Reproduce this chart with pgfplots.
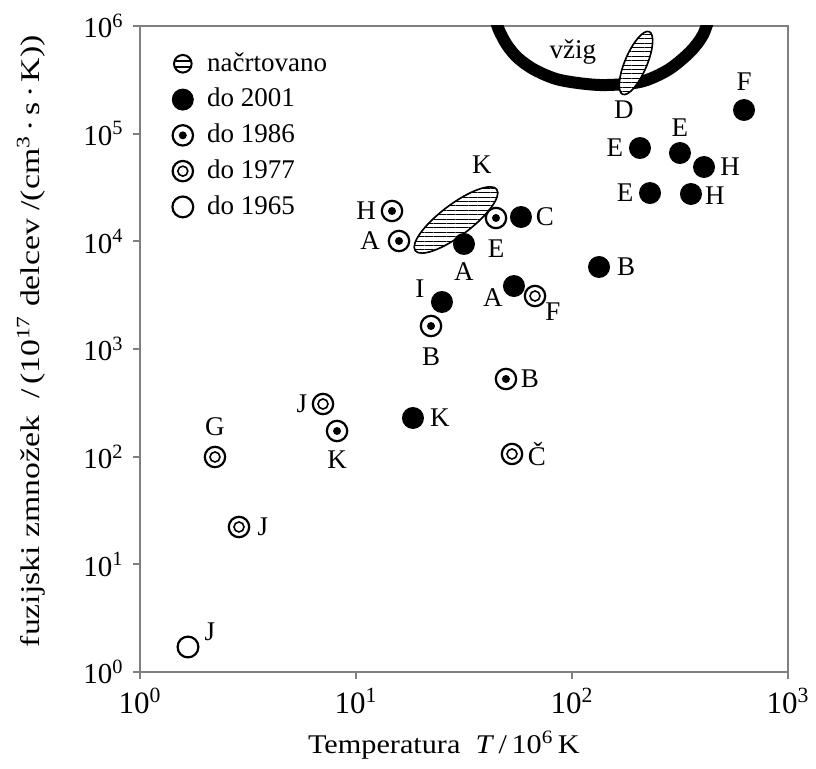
\documentclass[border=0pt]{standalone}
\usepackage{fontspec}
\setmainfont{Liberation Serif}
\newfontfamily\ylabfont[FakeStretch=1.25]{Liberation Serif}
\newfontfamily\xlabfont[FakeStretch=1.12]{Liberation Serif}
\usepackage{pgfplots}
\usepackage{pgfplotstable}
\pgfplotsset{compat=1.18}
\usetikzlibrary{patterns.meta}

\pgfdeclareplotmark{dot01}{%
  \pgfpathcircle{\pgfpointorigin}{5.5pt}\pgfusepathqfill}
\pgfdeclareplotmark{ring86}{%
  \pgfsetfillcolor{white}\pgfsetlinewidth{1.1pt}%
  \pgfpathcircle{\pgfpointorigin}{5.1pt}\pgfusepathqfillstroke
  \pgfsetfillcolor{black}%
  \pgfpathcircle{\pgfpointorigin}{2.0pt}\pgfusepathqfill}
\pgfdeclareplotmark{ring77}{%
  \pgfsetfillcolor{white}\pgfsetlinewidth{1.1pt}%
  \pgfpathcircle{\pgfpointorigin}{5.1pt}\pgfusepathqfillstroke
  \pgfsetlinewidth{0.8pt}%
  \pgfpathcircle{\pgfpointorigin}{2.5pt}\pgfusepathqstroke
  \pgfsetfillcolor{black}}
\pgfdeclareplotmark{open65}{%
  \pgfsetfillcolor{white}\pgfsetlinewidth{1.1pt}%
  \pgfpathcircle{\pgfpointorigin}{5.2pt}\pgfusepathqfillstroke
  \pgfsetfillcolor{black}}
\pgfdeclareplotmark{ellK}{%
  \pgfpathellipse{\pgfpointorigin}{\pgfpointpolar{37}{25.5pt}}{\pgfpointpolar{127}{7.8pt}}%
  \pgfusepathqfillstroke}
\pgfdeclareplotmark{ellD}{%
  \pgfpathellipse{\pgfpointorigin}{\pgfpointpolar{67}{17pt}}{\pgfpointpolar{157}{5.5pt}}%
  \pgfusepathqfillstroke}

% x y dx dy lab  (dx, dy: label offset in pt)
\pgfplotstableread{
x y dx dy lab
18.36 228.6 13.5 0 K
25.01 2732 -11 6.5 I
31.62 9445 0 -14 A
58.05 16820 12 0 C
53.88 3846 -10.5 -6 A
133.4 5775 13.5 0 B
206.4 73580 -12.5 0 E
316.2 66110 0 12.5 E
408.5 49010 13 0 H
229.7 28100 -12.5 0 E
355.5 27510 12 -1 H
625.7 165860 0 14 F
}\tabA
\pgfplotstableread{
x y dx dy lab
14.68 19120 -13 0 H
15.82 10070 -14.5 0 A
44.48 16470 0 -15.5 E
22.25 1635 0 -15.5 B
8.17 173.1 0 -14.5 K
49.47 526.3 12 0 B
}\tabB
\pgfplotstableread{
x y dx dy lab
2.224 99.3 0 15 G
2.873 22.22 12 0 J
7.035 308.4 -10.5 0 J
52.75 105.9 12.5 0 Č
67.42 3106 9 -8 F
}\tabC
\pgfplotstableread{
x y dx dy lab
1.668 1.707 11 7.5 J
}\tabD
\pgfplotstableread{
x y dx dy lab
29.04 15780 13 27.5 K
197.8 453200 -6 -23.5 D
}\tabE

\pgfplotsset{
  lbl/.style={nodes near coords, point meta=explicit symbolic,
    visualization depends on={\thisrow{dx}\as\dx},
    visualization depends on={\thisrow{dy}\as\dy},
    every node near coord/.append style={anchor=center, inner sep=0pt,
      xshift=\dx pt, yshift=\dy pt, black}},
}

\begin{document}
\fontsize{13.5}{16}\selectfont
\begin{tikzpicture}
\useasboundingbox (-70pt,-48.5pt) rectangle (338pt,336pt);
\begin{axis}[
  at={(0,0)}, anchor=south west, scale only axis,
  width=324pt, height=323pt,
  xmode=log, ymode=log,
  xmin=1, xmax=1000, ymin=1, ymax=1e6,
  xtick={1,10,100,1000},
  xticklabels={10\textsuperscript{0},10\textsuperscript{1},10\textsuperscript{2},10\textsuperscript{3}},
  ytick={1,10,100,1000,10000,100000,1000000},
  yticklabels={10\textsuperscript{0},10\textsuperscript{1},10\textsuperscript{2},10\textsuperscript{3},10\textsuperscript{4},10\textsuperscript{5},10\textsuperscript{6}},
  xticklabel style={font=\fontsize{15.5}{18}\selectfont},
  yticklabel style={font=\fontsize{14.5}{17}\selectfont},
  xminorticks=false, yminorticks=false,
  tick pos=left,
  tick align=outside, major tick length=3.5pt,
  axis line style={black!50, line width=1.1pt},
  tick style={black!50, line width=0.9pt},
  xlabel={\xlabfont Temperatura\ \ \textit{T}\,/\,10\textsuperscript{6}\,K},
  ylabel={\ylabfont fuzijski zmnožek\ \ /\,(10\textsuperscript{17} delcev /(cm\textsuperscript{3}\,·\,s\,·\,K))},
  every axis x label/.style={at={(axis description cs:0.469,-0.113)}, anchor=center},
  every axis y label/.style={at={(axis description cs:-0.168,0.512)}, rotate=90, anchor=center},
  legend style={draw=none, fill=none, at={(0.0485,0.966)}, anchor=north west,
    row sep=2.5pt, legend cell align=left, inner sep=0pt},
]
% ignition curve
\addplot[forget plot, smooth, black, line width=6pt] coordinates {
(43.5,1.265e6) (45.9,9.18e5) (50.0,6.66e5) (56.2,5.04e5) (67.4,3.90e5)
(88.0,3.15e5) (134.8,2.83e5) (206.5,3.02e5) (278,3.90e5) (351.8,5.73e5)
(403.9,8.25e5) (435.5,1.265e6)};
\node at (axis cs:101,5.73e5) {vžig};
% planned (hatched ellipses)
\addplot[forget plot, only marks, mark=ellK, mark options={fill=white, draw=none}]
  coordinates {(29.04,15780)};
\addplot[forget plot, only marks, mark=ellD, mark options={fill=white, draw=none}]
  coordinates {(197.8,453200)};
\addplot[forget plot, only marks, mark=ellK, mark options={draw=black, line width=0.8pt,
  pattern={Lines[angle=0,distance=2.2pt,line width=0.45pt]}}]
  coordinates {(29.04,15780)};
\addplot[forget plot, only marks, mark=ellD, mark options={draw=black, line width=0.8pt,
  pattern={Lines[angle=0,distance=2.2pt,line width=0.45pt]}}]
  coordinates {(197.8,453200)};
\addplot[forget plot, only marks, mark=none, lbl] table[meta=lab] {\tabE};
% data
\addplot[forget plot, only marks, black, mark=ring77, lbl] table[meta=lab] {\tabC};
\addplot[forget plot, only marks, black, mark=ring86, lbl] table[meta=lab] {\tabB};
\addplot[forget plot, only marks, black, mark=dot01, lbl] table[meta=lab] {\tabA};
\addplot[forget plot, only marks, black, mark=open65, lbl] table[meta=lab] {\tabD};
% legend
\addlegendimage{legend image code/.code={
  \path (0.2cm+10pt,0);
  \draw[line width=1pt, fill=white] (0.2cm,0) circle (4.4pt);
  \draw[line width=0.8pt] (0.2cm-3.8pt,1.5pt) -- ++(7.6pt,0)
        (0.2cm-3.8pt,-1.5pt) -- ++(7.6pt,0);}}
\addlegendentry{načrtovano}
\addlegendimage{legend image code/.code={\pgftransformshift{\pgfpoint{0.2cm}{0cm}}\pgfuseplotmark{dot01}}}
\addlegendentry{do 2001}
\addlegendimage{legend image code/.code={\pgftransformshift{\pgfpoint{0.2cm}{0cm}}\pgfuseplotmark{ring86}}}
\addlegendentry{do 1986}
\addlegendimage{legend image code/.code={\pgftransformshift{\pgfpoint{0.2cm}{0cm}}\pgfuseplotmark{ring77}}}
\addlegendentry{do 1977}
\addlegendimage{legend image code/.code={\pgftransformshift{\pgfpoint{0.2cm}{0cm}}\pgfuseplotmark{open65}}}
\addlegendentry{do 1965}
\end{axis}
\end{tikzpicture}
\end{document}
